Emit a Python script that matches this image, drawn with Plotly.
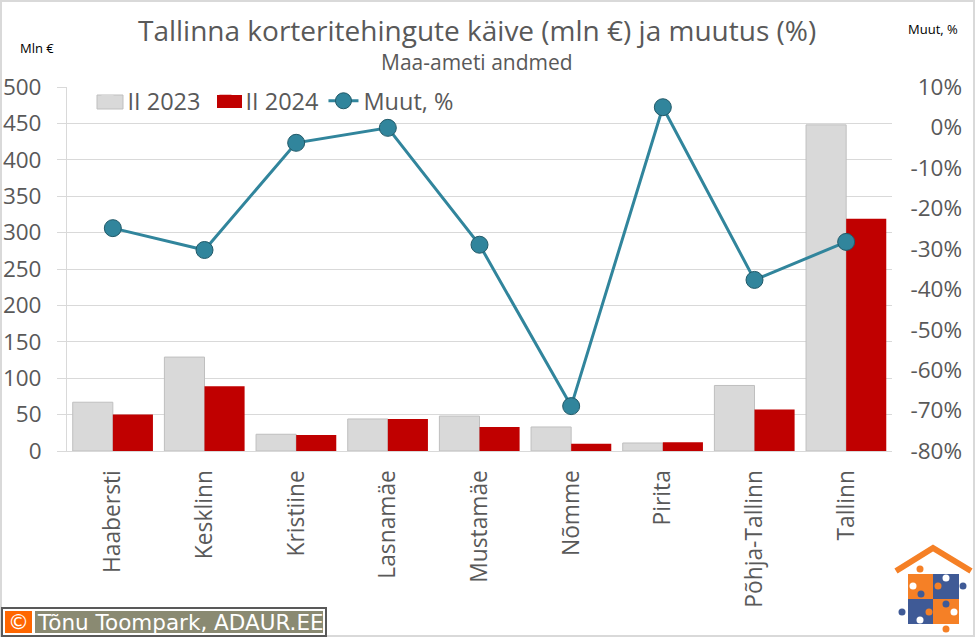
import plotly.graph_objs as go

linnaosad = ['Haabersti', 'Kesklinn', 'Kristiine', 'Lasnamäe', 'Mustamäe', 'Nõmme', 'Pirita', 'Põhja-Tallinn', 'Tallinn']
kaive_2023 = [67, 129, 23, 44, 48, 33, 11, 90, 448]
kaive_2024 = [50, 89, 22, 44, 33, 10, 12, 57, 319]
muutus = [-24.9, -30.3, -3.8, -0.1, -29, -68.9, 5, -37.7, -28.3]
vasak_sildid = [0, 50, 100, 150, 200, 250, 300, 350, 400, 450, 500]
parem_sildid = [-80, -70, -60, -50, -40, -30, -20, -10, 0, 10]
parem_tekstid = ['-80%', '-70%', '-60%', '-50%', '-40%', '-30%', '-20%', '-10%', '0%', '10%']

W = 976
H = 637
FONT = 'Open Sans'

def px(x):
    return x / W

def py(y):
    return 1 - y / H

def box(x0, y0, x1, y1, color, line_color = None, line_width = 0):
    """Return a rectangle given in picture pixels."""
    return dict(type = 'rect', xref = 'paper', yref = 'paper',
            x0 = px(x0), y0 = py(y0), x1 = px(x1), y1 = py(y1),
            fillcolor = color, line = dict(color = line_color, width = line_width))

def dot(x, y, r, color):
    return dict(type = 'circle', xref = 'paper', yref = 'paper',
            x0 = px(x - r), y0 = py(y - r), x1 = px(x + r), y1 = py(y + r),
            fillcolor = color, line = dict(width = 0))

def label(text, x, y, size, color, font = FONT, xanchor = 'center'):
    return dict(text = text, xref = 'paper', yref = 'paper', x = px(x), y = py(y),
            xanchor = xanchor, yanchor = 'middle', showarrow = False,
            font = dict(family = font, size = size, color = color))

def compute_shapes():
    """Return the frame, the footer, the wider legend keys and the logo."""
    orange = '#F58026'
    blue = '#3F5A96'
    shapes = [
        box(1, 1, 974, 636, 'rgba(0,0,0,0)', '#D9D9D9', 2),
        box(2, 608, 326, 636, '#FFFFFF', '#595959', 2),
        box(5, 611, 32, 633, '#FF6600'),
        box(35, 611, 323, 633, '#8A8A72'),
        box(97, 95, 123, 109, '#D9D9D9', '#BFBFBF', 1),
        box(217, 95, 242, 108, '#C00000'),
        box(908, 574, 933, 599, orange),
        box(933, 574, 959, 599, blue),
        box(908, 599, 933, 624, blue),
        box(933, 599, 959, 624, orange),
        dict(type = 'path', xref = 'paper', yref = 'paper',
            path = 'M %f,%f L %f,%f L %f,%f' % (px(896), py(571), px(933), py(548), px(971), py(571)),
            line = dict(color = orange, width = 6)),
    ]
    for x, y, color in [(920, 569, orange), (913, 586, 'white'), (938, 586, orange), (946, 578, 'white'),
            (963, 586, blue), (921, 594, blue), (902, 612, blue), (929, 612, orange),
            (920, 620, 'white'), (946, 604, blue), (954, 612, 'white'), (946, 629, orange)]:
        shapes.append(dot(x, y, 3.5, color))
    return shapes

def compute_fig():
    """Return the figure with bars on the left scale and the line on the right one."""
    data_a = [
        # no data, only the legend key without an outline
        go.Bar(
            x = linnaosad[:1],
            y = [None],
            name = 'II 2023',
            offsetgroup = 'a',
            marker = dict(color = '#D9D9D9', line = dict(width = 0))
        ),
        go.Bar(
            x = linnaosad,
            y = kaive_2023,
            name = 'II 2023',
            offsetgroup = 'a',
            showlegend = False,
            marker = dict(color = '#D9D9D9', line = dict(color = '#BFBFBF', width = 1))
        ),
        go.Bar(
            x = linnaosad,
            y = kaive_2024,
            name = 'II 2024',
            offsetgroup = 'b',
            marker = dict(color = '#C00000', line = dict(width = 0))
        ),
        go.Scatter(
            x = linnaosad,
            y = muutus,
            name = 'Muut, %',
            yaxis = 'y2',
            mode = 'lines+markers',
            line = dict(color = '#31859C', width = 3),
            marker = dict(color = '#31859C', size = 17, line = dict(color = '#215968', width = 1))
        )
    ]

    layout = go.Layout(
            autosize = False,
            width = W,
            height = H,
            margin = dict(l = 0, r = 0, t = 0, b = 0, autoexpand = False),
            paper_bgcolor = 'white',
            plot_bgcolor = 'white',
            font = dict(family = FONT, color = '#595959'),
            barmode = 'group',
            bargap = 0.125,
            bargroupgap = 0,
            xaxis = dict(
                    domain = [px(67), px(892)],
                    range = [-0.5, 8.5],
                    tickangle = -90,
                    tickfont = dict(size = 22.8),
                    showline = True,
                    linecolor = '#D9D9D9',
                    linewidth = 1,
                    ticks = '',
                    ticklabelstandoff = 9,
                    showgrid = False
                ),
            yaxis = dict(
                    domain = [py(451), py(87)],
                    range = [0, 500],
                    tickvals = vasak_sildid,
                    tickfont = dict(size = 22.5),
                    showline = True,
                    linecolor = '#D9D9D9',
                    gridcolor = '#D9D9D9',
                    ticks = 'outside',
                    ticklen = 9,
                    tickcolor = '#D9D9D9',
                    ticklabelstandoff = 11,
                    zeroline = False
                ),
            yaxis2 = dict(
                    overlaying = 'y',
                    side = 'left',
                    anchor = 'free',
                    position = px(962),
                    range = [-80, 10],
                    tickvals = parem_sildid,
                    ticktext = parem_tekstid,
                    tickfont = dict(size = 22.5),
                    showgrid = False,
                    showline = False,
                    zeroline = False,
                    ticks = ''
                ),
            legend = dict(
                    orientation = 'h',
                    x = px(87.5),
                    y = py(101),
                    xanchor = 'left',
                    yanchor = 'middle',
                    font = dict(size = 23.5),
                    bgcolor = 'rgba(0,0,0,0)',
                    itemwidth = 30
                ),
            shapes = compute_shapes(),
            annotations = [
                label('Tallinna korteritehingute käive (mln €) ja muutus (%)', 477, 30, 28, '#595959'),
                label('Maa-ameti andmed', 477, 62, 21, '#595959'),
                label('Mln €', 37, 48, 13, '#000000'),
                label('Muut, %', 933, 29, 13, '#000000'),
                label('©', 18, 622, 21, '#FFFFFF', 'DejaVu Sans'),
                label('Tõnu Toompark, ADAUR.EE', 35, 622, 21.5, '#FFFFFF', 'DejaVu Sans', 'left')
            ],
            showlegend = True
    )
    return go.Figure(data = data_a, layout = layout)

fig = compute_fig()
fig.write_html("out.html", post_script = "document.body.style.margin = '0';", config = dict(displayModeBar = False))
